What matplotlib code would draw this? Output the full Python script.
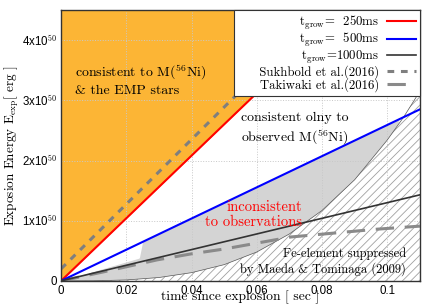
import numpy as np
import matplotlib
matplotlib.use("Agg")
import matplotlib.pyplot as plt

plt.rcParams["mathtext.fontset"] = "cm"
plt.rcParams["hatch.linewidth"] = 0.6
plt.rcParams["hatch.color"] = "#a0a0a0"

UNIT = 1e50

# growth-time lines: (t [s], E [1e50 erg]) end points
red_t, red_E = [0.0, 0.0865], [0.0, 4.5]        # t_grow = 250 ms
blue_t, blue_E = [0.0, 0.11], [0.0, 2.85]       # t_grow = 500 ms
black_t, black_E = [0.0, 0.11], [0.0, 1.43]     # t_grow = 1000 ms

# simulation results
suk_t, suk_E = [0.0, 0.08], [0.2, 4.5]
tak_t = [0.0, 0.013, 0.0295, 0.040, 0.050, 0.0705, 0.097, 0.11]
tak_E = [0.0, 0.15, 0.35, 0.45, 0.53, 0.73, 0.86, 0.91]

# Fe-suppression boundary (Maeda & Tominaga 2009)
fe_t = [0.0, 0.01, 0.02, 0.03, 0.04, 0.05, 0.06, 0.07, 0.08, 0.09, 0.10, 0.105, 0.11]
fe_E = [0.0, 0.002, 0.016, 0.056, 0.137, 0.27, 0.48, 0.78, 1.17, 1.68, 2.34, 2.72, 3.15]

# upper edge of the grey "inconsistent" band
gray_t = [0.0, 0.024, 0.025, 0.1035]
gray_E = [0.0, 0.38, 0.65, 2.69]

XMAX, YMAX = 0.11, 4.5
xticks = [0, 0.02, 0.04, 0.06, 0.08, 0.1]
xticklabels = ["0", "0.02", "0.04", "0.06", "0.08", "0.1"]
yticks = [0, 1, 2, 3, 4]
yticklabels = ["0"] + [f"{k}x10$^{{\\mathsf{{50}}}}$" for k in yticks[1:]]

fig = plt.figure(figsize=(4.36, 3.05), dpi=100)
ax = fig.add_axes([0.140, 0.079, 0.823, 0.888])

tt = np.linspace(0, XMAX, 600)

# orange: consistent with Ni and EMP stars
tr = np.linspace(0, red_t[1], 400)
ax.fill_between(tr, np.interp(tr, red_t, red_E) * UNIT, YMAX * UNIT,
                color="#fcb535", lw=0, zorder=1)

# grey band between blue line and Fe boundary
top = np.interp(tt, gray_t, gray_E, right=np.nan)
bot = np.interp(tt, fe_t, fe_E)
ok = np.isfinite(top) & (top >= bot)
ax.fill_between(tt, bot * UNIT, np.where(ok, top, bot) * UNIT, where=ok,
                color="#d4d4d4", lw=0, zorder=1)

# hatched Fe-suppressed region
ax.fill_between(fe_t, 0, np.array(fe_E) * UNIT, facecolor="white",
                edgecolor="#a0a0a0", hatch="////", lw=0, zorder=2)
ax.plot(fe_t, np.array(fe_E) * UNIT, color="#555555", lw=0.5, zorder=3)

ax.plot(red_t, np.array(red_E) * UNIT, color="red", lw=1.5, zorder=5,
        label=r"$\mathrm{t_{grow}}$=  250ms")
ax.plot(blue_t, np.array(blue_E) * UNIT, color="blue", lw=1.5, zorder=5,
        label=r"$\mathrm{t_{grow}}$=  500ms")
ax.plot(black_t, np.array(black_E) * UNIT, color="#333333", lw=1.2, zorder=5,
        label=r"$\mathrm{t_{grow}}$=1000ms")
ax.plot(suk_t, np.array(suk_E) * UNIT, color="#7f7f7f", lw=2.2, ls=(0, (2.2, 2.2)),
        zorder=4, label="     Sukhbold et al.(2016)")
ax.plot(tak_t, np.array(tak_E) * UNIT, color="#8a8a8a", lw=2.2, ls=(0, (6, 3.5)),
        zorder=4, label="Takiwaki et al.(2016)")

serif = dict(family="cmr10")
ax.text(0.0043, 3.34 * UNIT, "consistent to M($^{56}$Ni)\n& the EMP stars",
        fontsize=10, va="center", linespacing=1.3, zorder=6, **serif)
ax.text(0.0551, 2.52 * UNIT, "consistent olny to\nobserved M($^{56}$Ni)",
        fontsize=10, va="center", linespacing=1.3, zorder=6, **serif)
ax.text(0.0738, 1.10 * UNIT, "inconsistent\nto observations", color="red",
        fontsize=10.5, ha="right", va="center", ma="right", linespacing=1.1,
        zorder=6, **serif)
ax.text(0.1057, 0.32 * UNIT, "Fe-element suppressed\nby Maeda & Tominaga (2009)",
        fontsize=9, ha="right", va="center", ma="right", linespacing=1.15,
        zorder=6, **serif)

ax.set_xlim(0, XMAX)
ax.set_ylim(0, YMAX * UNIT)
ax.set_xticks(xticks)
ax.set_xticklabels(xticklabels)
ax.set_yticks([v * UNIT for v in yticks])
ax.set_yticklabels(yticklabels)
ax.tick_params(length=0, labelsize=8.3, pad=3)
for lab in ax.get_xticklabels() + ax.get_yticklabels():
    lab.set_family("Liberation Sans")
ax.grid(True, ls=":", color="#c8c8c8", lw=0.7, zorder=7)
ax.set_axisbelow(False)
for s in ax.spines.values():
    s.set_color("#333333")
    s.set_linewidth(1.0)
    s.set_zorder(10)

ax.set_xlabel("time since explosion [ sec ]", fontsize=9.8, labelpad=-5, **serif)
ax.set_ylabel(r"Exposion Energy E$_{\mathrm{exp}}$[ erg ]", fontsize=9.5, **serif)
ax.yaxis.set_label_coords(-0.112, 0.5)

leg = ax.legend(loc="upper right", borderaxespad=0, markerfirst=False,
                fancybox=False, edgecolor="#333333", framealpha=1,
                prop=dict(family="cmr10", size=9.2), handlelength=2.3,
                labelspacing=-0.06, borderpad=0.3, handletextpad=0.6)
for t in leg.get_texts():
    t.set_ha("right")
leg.get_frame().set_linewidth(0.8)
leg.set_zorder(12)

fig.savefig("out.png", dpi=100)
